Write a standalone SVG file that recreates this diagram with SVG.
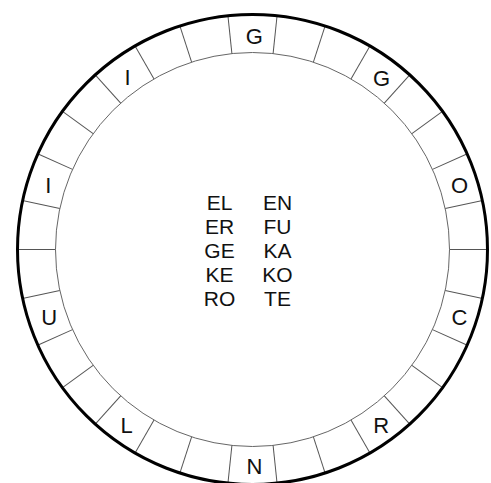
<svg xmlns="http://www.w3.org/2000/svg" width="491" height="483" viewBox="0 0 491 483">
  <style>
    .ring { font-family: "Liberation Sans", Arial, sans-serif; font-size: 22px; fill: #111; text-anchor: middle; }
    .mid { font-family: "Liberation Sans", Arial, sans-serif; font-size: 21px; fill: #111; text-anchor: middle; }
    .div { stroke: #555; stroke-width: 1; }
  </style>
  <defs>
    <line id="tick" x1="197" y1="0" x2="234" y2="0" class="div"/>
  </defs>
  <rect width="491" height="483" fill="#fff"/>
  <g id="wheel">
    <g id="dividers" transform="translate(252.5,249.5)">
      <use href="#tick" transform="rotate(0)"/>
      <use href="#tick" transform="rotate(12)"/>
      <use href="#tick" transform="rotate(24)"/>
      <use href="#tick" transform="rotate(36)"/>
      <use href="#tick" transform="rotate(48)"/>
      <use href="#tick" transform="rotate(60)"/>
      <use href="#tick" transform="rotate(72)"/>
      <use href="#tick" transform="rotate(84)"/>
      <use href="#tick" transform="rotate(96)"/>
      <use href="#tick" transform="rotate(108)"/>
      <use href="#tick" transform="rotate(120)"/>
      <use href="#tick" transform="rotate(132)"/>
      <use href="#tick" transform="rotate(144)"/>
      <use href="#tick" transform="rotate(156)"/>
      <use href="#tick" transform="rotate(168)"/>
      <use href="#tick" transform="rotate(180)"/>
      <use href="#tick" transform="rotate(192)"/>
      <use href="#tick" transform="rotate(204)"/>
      <use href="#tick" transform="rotate(216)"/>
      <use href="#tick" transform="rotate(228)"/>
      <use href="#tick" transform="rotate(240)"/>
      <use href="#tick" transform="rotate(252)"/>
      <use href="#tick" transform="rotate(264)"/>
      <use href="#tick" transform="rotate(276)"/>
      <use href="#tick" transform="rotate(288)"/>
      <use href="#tick" transform="rotate(300)"/>
      <use href="#tick" transform="rotate(312)"/>
      <use href="#tick" transform="rotate(324)"/>
      <use href="#tick" transform="rotate(336)"/>
      <use href="#tick" transform="rotate(348)"/>
    </g>
    <circle id="inner" cx="252.5" cy="249.5" r="197" fill="none" stroke="#666" stroke-width="1"/>
    <circle id="outer" cx="252.5" cy="249.5" r="235" fill="none" stroke="#000" stroke-width="3"/>
  </g>
  <g id="ring-letters">
    <text class="ring" x="254.3" y="43.5">G</text>
    <text class="ring" x="381.5" y="85.5">G</text>
    <text class="ring" x="459.6" y="192.5">O</text>
    <text class="ring" x="459.4" y="325">C</text>
    <text class="ring" x="381.3" y="433">R</text>
    <text class="ring" x="254.5" y="474">N</text>
    <text class="ring" x="126.5" y="432.7">L</text>
    <text class="ring" x="49.2" y="325">U</text>
    <text class="ring" x="48.3" y="193.3">I</text>
    <text class="ring" x="127.5" y="85">I</text>
  </g>
  <g id="center-left">
    <text class="mid" x="219.5" y="210">EL</text>
    <text class="mid" x="219.5" y="234">ER</text>
    <text class="mid" x="219.5" y="258">GE</text>
    <text class="mid" x="219.5" y="282">KE</text>
    <text class="mid" x="219.5" y="306">RO</text>
  </g>
  <g id="center-right">
    <text class="mid" x="277.5" y="210">EN</text>
    <text class="mid" x="277.5" y="234">FU</text>
    <text class="mid" x="277.5" y="258">KA</text>
    <text class="mid" x="277.5" y="282">KO</text>
    <text class="mid" x="277.5" y="306">TE</text>
  </g>
</svg>
